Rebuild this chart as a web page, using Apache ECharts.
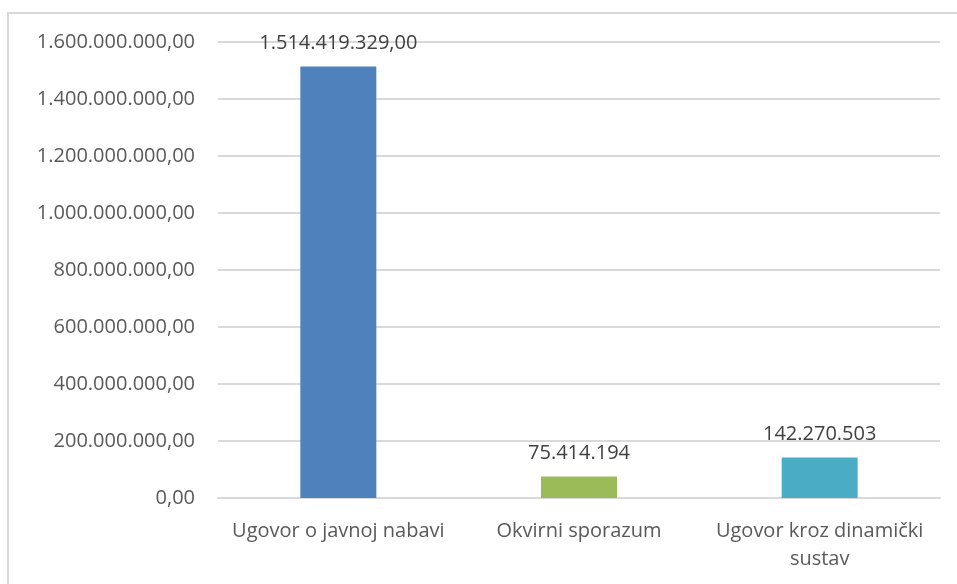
<!DOCTYPE html>
<html>
<head>
<meta charset="utf-8">
<script src="https://cdn.jsdelivr.net/npm/echarts@6/dist/echarts.min.js"></script>
<style>
  html, body { margin: 0; padding: 0; background: #fff; }
  #chart { width: 957px; height: 584px; }
</style>
</head>
<body>
<div id="chart"></div>
<script>
const categories = ["Ugovor o javnoj nabavi", "Okvirni sporazum", "Ugovor kroz dinamički\nsustav"];
const values = [1514419329, 75414194, 142270503];
const valueLabels = ["1.514.419.329,00", "75.414.194", "142.270.503"];
const barColors = ["#4f81bd", "#9bbb59", "#4bacc6"];
const yMax = 1600000000;
const yStep = 200000000;

// hrvatski format: 1.600.000.000,00
function formatHr(v) {
  const s = String(Math.round(v)).replace(/\B(?=(\d{3})+(?!\d))/g, ".");
  return s + ",00";
}

const myChart = echarts.init(document.getElementById("chart"));
const font = "Open Sans";
const option = {
  animation: false,
  graphic: [
    {
      type: "rect",
      shape: { x: 8, y: 13, width: 970, height: 600 },
      style: { fill: "none", stroke: "#d9d9d9", lineWidth: 2 },
      silent: true,
    },
  ],
  grid: { left: 218, right: 17, top: 42, bottom: 86 },
  xAxis: {
    type: "category",
    data: categories,
    axisTick: { show: false },
    axisLine: { lineStyle: { color: "#d9d9d9", width: 2 } },
    axisLabel: {
      interval: 0,
      margin: 19,
      color: "#595959",
      fontFamily: font,
      fontSize: 20,
      lineHeight: 28,
    },
  },
  yAxis: {
    type: "value",
    min: 0,
    max: yMax,
    interval: yStep,
    axisLine: { show: false },
    axisTick: { show: false },
    splitLine: { lineStyle: { color: "#d9d9d9", width: 2 } },
    axisLabel: {
      margin: 23,
      color: "#595959",
      fontFamily: font,
      fontSize: 20,
      formatter: formatHr,
    },
  },
  series: [
    {
      type: "bar",
      barWidth: 76,
      data: values.map((v, i) => ({
        value: v,
        itemStyle: { color: barColors[i] },
      })),
      label: {
        show: true,
        position: "top",
        distance: 13,
        color: "#404040",
        fontFamily: font,
        fontSize: 20,
        formatter: (p) => valueLabels[p.dataIndex],
      },
    },
  ],
};
option && myChart.setOption(option);
</script>
</body>
</html>
